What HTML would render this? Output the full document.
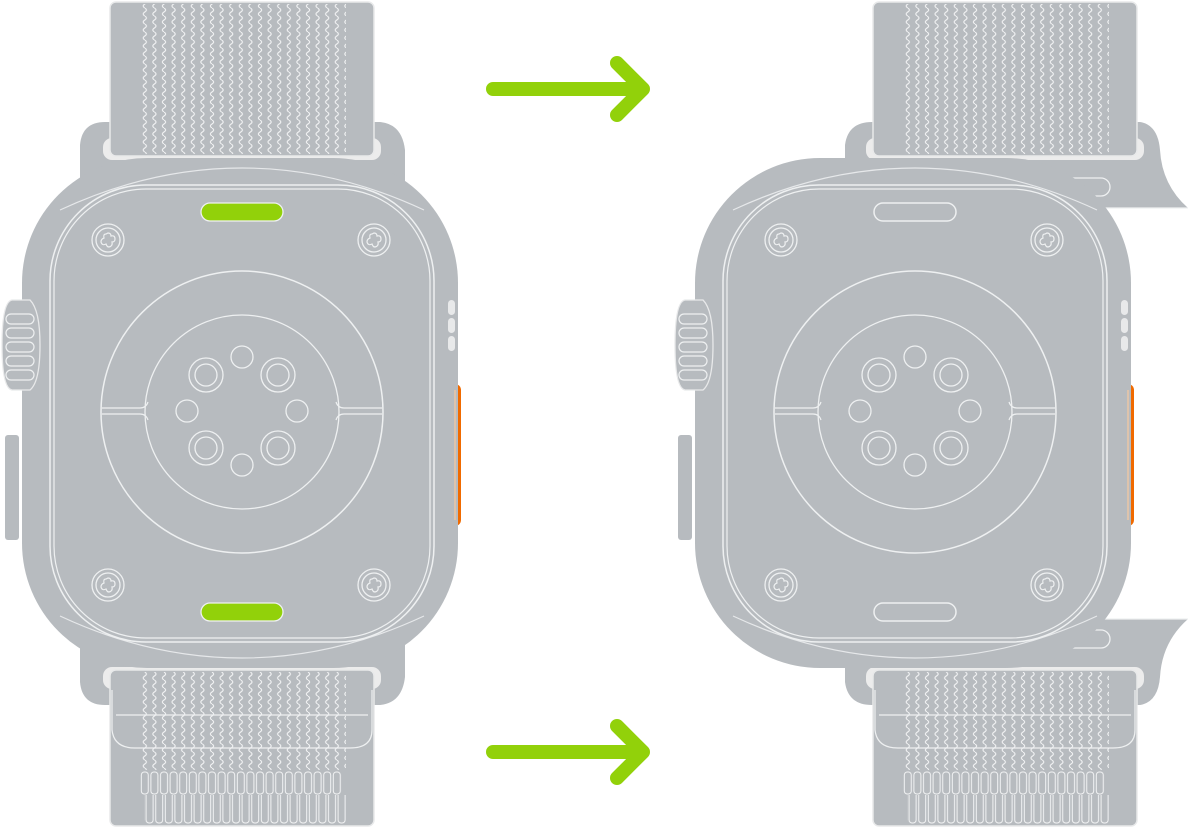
<!DOCTYPE html>
<html><head><meta charset="utf-8"><style>
html,body{margin:0;padding:0;background:#fff;width:1192px;height:833px;overflow:hidden}
svg{display:block}
</style></head><body>
<svg width="1192" height="833" viewBox="0 0 1192 833" xmlns="http://www.w3.org/2000/svg">
<defs>
<pattern id="wave" x="140" y="0" width="9.6" height="8" patternUnits="userSpaceOnUse">
<path d="M4.8,0 Q8,2 4.8,4 Q1.6,6 4.8,8" fill="none" stroke="#f2f3f4" stroke-width="1.1"/>
</pattern>
<pattern id="loops" x="140" y="771" width="9.6" height="24" patternUnits="userSpaceOnUse">
<rect x="1.3" y="1" width="7" height="22" rx="3" fill="none" stroke="#f2f3f4" stroke-width="1"/>
</pattern>
<pattern id="loops2" x="144.8" y="795" width="9.6" height="40" patternUnits="userSpaceOnUse">
<rect x="1.3" y="-4" width="7" height="32" rx="3" fill="none" stroke="#f2f3f4" stroke-width="1"/>
</pattern>
<g id="topband">
<rect x="103" y="138" width="278" height="22" rx="9" fill="#ececec"/>
<rect x="110" y="2" width="264" height="154" rx="6" fill="#b7bbbf" stroke="#e8e9ea" stroke-width="1.5"/>
<rect x="140" y="4" width="206" height="150" fill="url(#wave)"/>
</g>
<g id="botband">
<rect x="103" y="667" width="278" height="22" rx="9" fill="#ececec"/>
<rect x="110" y="670" width="264" height="156" rx="6" fill="#b7bbbf" stroke="#e8e9ea" stroke-width="1.5"/>
<rect x="140" y="672" width="206" height="98" fill="url(#wave)"/>
<path d="M112,690 L112,730 Q114,748 135,748 L350,748 Q372,748 372,730 L372,690" fill="none" stroke="#eef0f1" stroke-width="1.2"/>
<line x1="116" y1="715" x2="368" y2="715" stroke="#eef0f1" stroke-width="1.2"/>
<rect x="140" y="771" width="202" height="24" fill="url(#loops)"/>
<rect x="144" y="795" width="202" height="30" fill="url(#loops2)"/>
</g>
<g id="screw">
<circle r="16" fill="none" stroke="#eef0f1" stroke-width="1.3"/>
<circle r="12" fill="none" stroke="#eef0f1" stroke-width="1.3"/>
<path d="M0,-7 Q3,-7 3,-4 Q7,-5 7,-1 Q7,2 4,2 Q5,6 1,7 Q-1,7 -2,4 Q-6,6 -7,2 Q-7,-1 -4,-2 Q-5,-6 -2,-6 Z" fill="none" stroke="#eef0f1" stroke-width="1.2"/>
</g>
<g id="dring"><circle r="17" fill="none" stroke="#eef0f1" stroke-width="1.3"/><circle r="11" fill="none" stroke="#eef0f1" stroke-width="1.3"/></g>
<g id="sring"><circle r="11" fill="none" stroke="#eef0f1" stroke-width="1.3"/></g>
<g id="case">
<rect x="5" y="435" width="14" height="105" rx="3" fill="#b7bbbf"/>
<rect x="449" y="384" width="12" height="142" rx="6" fill="#f06a00"/>
<rect x="30" y="268" width="40" height="290" rx="6" fill="#b7bbbf"/>
<rect x="22" y="158" width="436" height="510" rx="125" fill="#b7bbbf"/>
<path d="M455,390 L455,520" stroke="#f7c9a0" stroke-width="1.2"/>
<!-- crown -->
<path d="M12,300 L30,300 Q40,310 40,345 Q40,382 30,390 L12,390 Q2,388 2,345 Q2,302 12,300 Z" fill="#b7bbbf" stroke="#e8e9ea" stroke-width="1.3"/>
<g fill="none" stroke="#eef0f1" stroke-width="1.2">
<rect x="6" y="314" width="28" height="10" rx="5"/><rect x="6" y="328" width="28" height="10" rx="5"/><rect x="6" y="342" width="28" height="10" rx="5"/><rect x="6" y="356" width="28" height="10" rx="5"/><rect x="6" y="370" width="28" height="10" rx="5"/>
</g>
<path d="M60,210 Q150,168 242,168 Q334,168 424,210" fill="none" stroke="#e6e8ea" stroke-width="1.2"/>
<path d="M60,616 Q150,658 242,658 Q334,658 424,616" fill="none" stroke="#e6e8ea" stroke-width="1.2"/>
<rect x="50" y="185" width="384" height="457" rx="96" fill="none" stroke="#eef0f1" stroke-width="1.5"/>
<rect x="54" y="189" width="376" height="449" rx="92" fill="none" stroke="#eef0f1" stroke-width="1.2"/>
<rect x="448" y="300" width="7" height="15" rx="3.5" fill="#e8e9ea"/>
<rect x="448" y="318" width="7" height="15" rx="3.5" fill="#e8e9ea"/>
<rect x="448" y="336" width="7" height="15" rx="3.5" fill="#e8e9ea"/>
<use href="#screw" x="108" y="240"/><use href="#screw" x="374" y="240"/>
<use href="#screw" x="108" y="585"/><use href="#screw" x="374" y="585"/>
<circle cx="242" cy="412" r="141" fill="none" stroke="#eef0f1" stroke-width="1.5"/>
<circle cx="242" cy="412" r="97" fill="none" stroke="#eef0f1" stroke-width="1.3"/>
<path d="M102,408 L140,408 Q146,408 148,402 M102,414 L140,414 Q146,414 148,420 M382,408 L344,408 Q338,408 336,402 M382,414 L344,414 Q338,414 336,420" fill="none" stroke="#eef0f1" stroke-width="1.2"/>
<use href="#sring" x="242" y="357"/><use href="#sring" x="187" y="411"/><use href="#sring" x="297" y="411"/><use href="#sring" x="242" y="465"/>
<use href="#dring" x="206" y="375"/><use href="#dring" x="278" y="375"/><use href="#dring" x="206" y="448"/><use href="#dring" x="278" y="448"/>
</g>
</defs>

<!-- LEFT WATCH -->
<path d="M80,200 L80,145 Q82,122 105,122 L380,122 Q402,124 405,150 L405,200 Z" fill="#b7bbbf"/>
<path d="M80,627 L80,682 Q82,705 105,705 L380,705 Q402,703 405,677 L405,627 Z" fill="#b7bbbf"/>
<use href="#topband"/>
<use href="#botband"/>
<use href="#case"/>
<rect x="201" y="203" width="82" height="18" rx="9" fill="#92d10a" stroke="#eef0f1" stroke-width="1.3"/>
<rect x="201" y="603" width="82" height="18" rx="9" fill="#92d10a" stroke="#eef0f1" stroke-width="1.3"/>

<!-- RIGHT WATCH -->
<path d="M845,170 L845,145 Q848,122 872,122 L1140,122 Q1158,125 1160,150 Q1162,185 1188,208 L1090,208 Z" fill="#b7bbbf"/>
<line x1="1100" y1="208" x2="1188" y2="208" stroke="#eef0f1" stroke-width="1.2"/>
<rect x="1040" y="178" width="70" height="18" rx="9" fill="none" stroke="#eef0f1" stroke-width="1.3"/>
<path d="M845,657 L845,682 Q848,705 872,705 L1140,705 Q1158,702 1160,677 Q1162,642 1188,619 L1090,619 Z" fill="#b7bbbf"/>
<line x1="1100" y1="619" x2="1188" y2="619" stroke="#eef0f1" stroke-width="1.2"/>
<rect x="1040" y="630" width="70" height="18" rx="9" fill="none" stroke="#eef0f1" stroke-width="1.3"/>
<use href="#topband" x="763"/>
<use href="#botband" x="763"/>
<use href="#case" x="673"/>
<rect x="874" y="203" width="82" height="18" rx="9" fill="none" stroke="#eef0f1" stroke-width="1.5"/>
<rect x="874" y="603" width="82" height="18" rx="9" fill="none" stroke="#eef0f1" stroke-width="1.5"/>

<!-- ARROWS -->
<g fill="none" stroke="#92d10a" stroke-width="14" stroke-linecap="round" stroke-linejoin="round">
<path d="M493,89 L642,89 M617,63 L643,89 L617,115"/>
<path d="M493,752 L642,752 M617,726 L643,752 L617,778"/>
</g>
</svg>
</body></html>
